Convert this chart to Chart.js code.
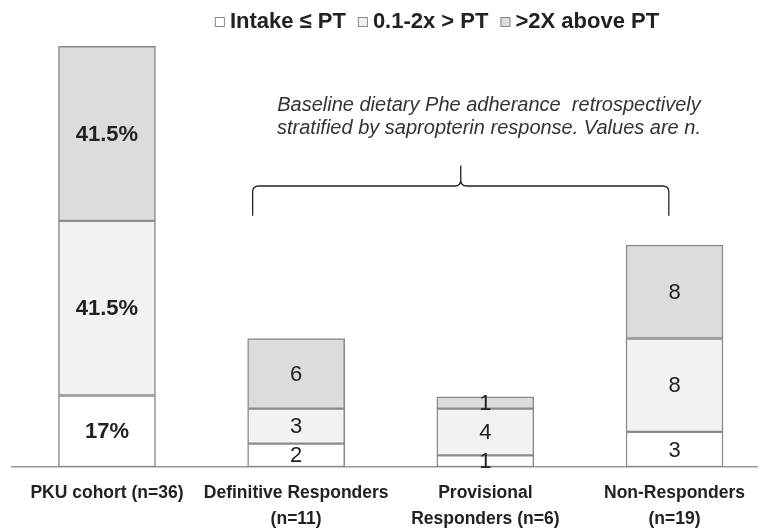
<!DOCTYPE html>
<html>
<head>
<meta charset="utf-8">
<script src="https://cdn.jsdelivr.net/npm/chart.js@4"></script>
<style>
  html, body { margin: 0; padding: 0; background: #fff; }
</style>
</head>
<body>
<canvas id="myChart" width="760" height="529"></canvas>
<script>
const categories = [
  'PKU cohort (n=36)',
  ['Definitive Responders', '(n=11)'],
  ['Provisional', 'Responders (n=6)'],
  ['Non-Responders', '(n=19)']
];
const seriesNames = ['Intake \u2264 PT', '0.1-2x > PT', '>2X above PT'];
// PKU cohort bar is n=36 split by percent, other groups are counts
const intake = [6.12, 2, 1, 3];
const moderate = [14.94, 3, 4, 8];
const high = [14.94, 6, 1, 8];
const intakeText = ['17%', '2', '1', '3'];
const moderateText = ['41.5%', '3', '4', '8'];
const highText = ['41.5%', '6', '1', '8'];
const noteLines = [
  'Baseline dietary Phe adherance  retrospectively',
  'stratified by sapropterin response. Values are n.'
];

const FONT = '"Liberation Sans", Arial, Helvetica, sans-serif';
const colors = ['#ffffff', '#f1f2f4', '#dcdcde'];

const segmentLabels = {
  id: 'segmentLabels',
  afterDatasetsDraw(chart) {
    const ctx = chart.ctx;
    ctx.save();
    ctx.textAlign = 'center';
    ctx.textBaseline = 'middle';
    ctx.fillStyle = '#222';
    chart.data.datasets.forEach((ds, di) => {
      chart.getDatasetMeta(di).data.forEach((bar, i) => {
        ctx.font = (i === 0 ? 'bold ' : '') + '22px ' + FONT;
        ctx.fillText(ds.texts[i], bar.x, (bar.y + bar.base) / 2 + 1);
      });
    });
    ctx.restore();
  }
};

const topLegend = {
  id: 'topLegend',
  afterDraw(chart) {
    const ctx = chart.ctx;
    ctx.save();
    ctx.font = 'bold 22px ' + FONT;
    const box = 10, gap = 5, space = 12;
    const widths = seriesNames.map(t => ctx.measureText(t).width);
    const total = widths.reduce((a, w) => a + box + gap + w, 0) + space * (seriesNames.length - 1);
    let x = 437 - total / 2;
    const y = 22;
    ctx.textBaseline = 'middle';
    seriesNames.forEach((name, i) => {
      ctx.fillStyle = colors[i];
      ctx.fillRect(x, y - box / 2, box, box);
      ctx.strokeStyle = '#888';
      ctx.lineWidth = 1;
      ctx.strokeRect(x + 0.5, y - box / 2 + 0.5, box - 1, box - 1);
      x += box + gap;
      ctx.fillStyle = '#222';
      ctx.fillText(name, x, y);
      x += widths[i] + space;
    });
    ctx.restore();
  }
};

const brace = {
  id: 'brace',
  afterDraw(chart) {
    const ctx = chart.ctx;
    const xs = chart.scales.x, ys = chart.scales.y;
    const x0 = xs.getPixelForValue(0.77), x1 = xs.getPixelForValue(2.97);
    const xm = (x0 + x1) / 2;
    const yEnd = ys.getPixelForValue(21.5), yMid = ys.getPixelForValue(24.05), yTip = ys.getPixelForValue(25.8);
    const r = 6;
    ctx.save();
    ctx.strokeStyle = '#222';
    ctx.lineWidth = 1.3;
    ctx.beginPath();
    ctx.moveTo(x0, yEnd);
    ctx.lineTo(x0, yMid + r);
    ctx.quadraticCurveTo(x0, yMid, x0 + r, yMid);
    ctx.lineTo(xm - r, yMid);
    ctx.quadraticCurveTo(xm, yMid, xm, yMid - r);
    ctx.lineTo(xm, yTip);
    ctx.moveTo(xm, yMid - r);
    ctx.quadraticCurveTo(xm, yMid, xm + r, yMid);
    ctx.lineTo(x1 - r, yMid);
    ctx.quadraticCurveTo(x1, yMid, x1, yMid + r);
    ctx.lineTo(x1, yEnd);
    ctx.stroke();

    ctx.font = 'italic 20px ' + FONT;
    ctx.fillStyle = '#333';
    ctx.textAlign = 'center';
    ctx.textBaseline = 'alphabetic';
    noteLines.forEach((line, i) => ctx.fillText(line, 489, 111 + i * 23));
    ctx.restore();
  }
};

const toPoints = arr => arr.map((v, i) => ({ x: i, y: v }));

new Chart(document.getElementById('myChart'), {
  type: 'bar',
  data: {
    datasets: [
      { label: seriesNames[0], data: toPoints(intake), texts: intakeText, backgroundColor: colors[0] },
      { label: seriesNames[1], data: toPoints(moderate), texts: moderateText, backgroundColor: colors[1] },
      { label: seriesNames[2], data: toPoints(high), texts: highText, backgroundColor: colors[2] }
    ]
  },
  options: {
    responsive: false,
    animation: false,
    layout: { padding: { top: 23, left: 12, right: 3, bottom: 0 } },
    datasets: {
      bar: { barThickness: 97, borderColor: '#8a8a8a', borderWidth: 1.5, borderSkipped: false }
    },
    plugins: {
      legend: { display: false },
      tooltip: { enabled: false }
    },
    scales: {
      x: {
        type: 'linear',
        offset: false,
        stacked: true,
        min: -0.502,
        max: 3.436,
        grid: { display: false, drawTicks: false },
        border: { color: '#999', width: 1.5 },
        afterBuildTicks: s => { s.ticks = categories.map((c, i) => ({ value: i })); },
        afterFit: s => { s.height = 62; },
        ticks: {
          autoSkip: false,
          maxRotation: 0,
          padding: 13,
          color: '#222',
          font: { family: FONT, size: 17.5, weight: 'bold', lineHeight: 1.5 },
          callback: v => categories[v]
        }
      },
      y: { display: false, stacked: true, min: 0, max: 38 }
    }
  },
  plugins: [segmentLabels, topLegend, brace]
});
</script>
</body>
</html>
